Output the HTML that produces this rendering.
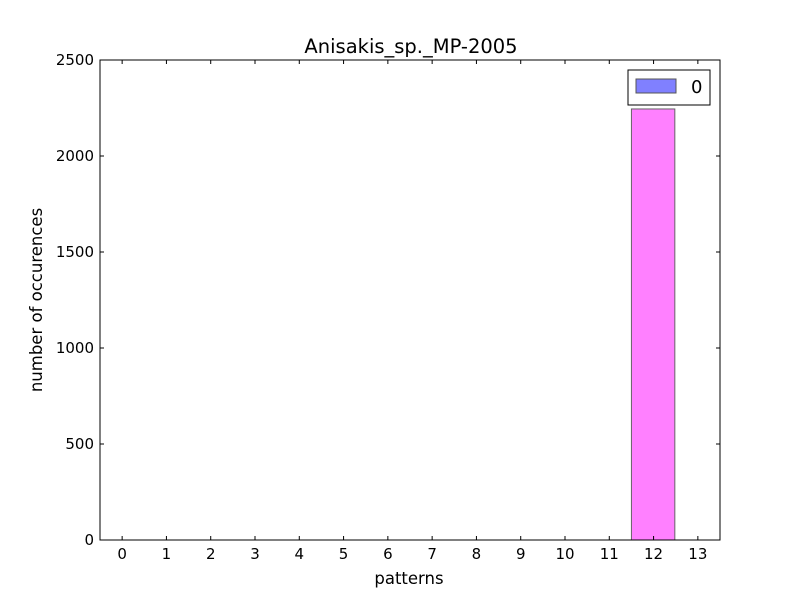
<!DOCTYPE html>
<html><head><meta charset="utf-8"><style>
body{margin:0;background:#fff;}
text{font-family:"DejaVu Sans","Liberation Sans",sans-serif;}
</style></head><body>
<svg id="chart" width="800" height="600" xmlns="http://www.w3.org/2000/svg">
<rect width="800" height="600" fill="#fff"/>
<text x="411" y="53" font-size="19.5" text-anchor="middle">Anisakis_sp._MP-2005</text>
<g id="bars"></g>
<g id="axes"></g>
<rect x="100" y="60" width="620" height="480" fill="none" stroke="#000" stroke-width="1"/>
<text x="409" y="584" font-size="16.5" text-anchor="middle">patterns</text>
<text transform="translate(42,300) rotate(-90)" font-size="16.5" text-anchor="middle">number of occurences</text>
<g>
<rect x="628" y="70" width="82" height="35" fill="#fff" stroke="#000" stroke-width="1"/>
<rect x="636" y="79" width="40" height="14" fill="#8080ff" stroke="#555" stroke-width="1"/>
<text x="691" y="93" font-size="18">0</text>
</g>
</svg>
<script>
const categories=[0,1,2,3,4,5,6,7,8,9,10,11,12,13];
const values=[0,0,0,0,0,0,0,0,0,0,0,0,2245,0];
const yTicks=[0,500,1000,1500,2000,2500];
const L=100,R=720,T=60,B=540,yMax=2500;
function xs(v){return L+(v+0.5)*(R-L)/14;}
function ys(v){return B-v*(B-T)/yMax;}
const NS="http://www.w3.org/2000/svg";
const bars=document.getElementById('bars'),axes=document.getElementById('axes');
function mk(tag,attrs,parent){const e=document.createElementNS(NS,tag);for(const k in attrs)e.setAttribute(k,attrs[k]);parent.appendChild(e);return e;}
categories.forEach((c,i)=>{
  const v=values[i];
  const r=mk('rect',{x:xs(c-0.5),y:ys(v),width:xs(c+0.48)-xs(c-0.5),height:ys(0)-ys(v),fill:'#ff80ff',stroke:'#666','stroke-width':1},bars);
  
  
  const x=xs(c);
  mk('line',{x1:x,x2:x,y1:B,y2:B-4,stroke:'#000'},axes);
  mk('line',{x1:x,x2:x,y1:T,y2:T+4,stroke:'#000'},axes);
  const t=mk('text',{x:x,y:B+19,'font-size':15,'text-anchor':'middle'},axes);
  t.textContent=c;
  
  
});
yTicks.forEach(v=>{
  const y=ys(v);
  mk('line',{x1:L,x2:L+4,y1:y,y2:y,stroke:'#000'},axes);
  mk('line',{x1:R,x2:R-4,y1:y,y2:y,stroke:'#000'},axes);
  const t=mk('text',{x:L-6,y:y+5,'font-size':15,'text-anchor':'end'},axes);
  t.textContent=v;
  
  
});
</script>
</body></html>
